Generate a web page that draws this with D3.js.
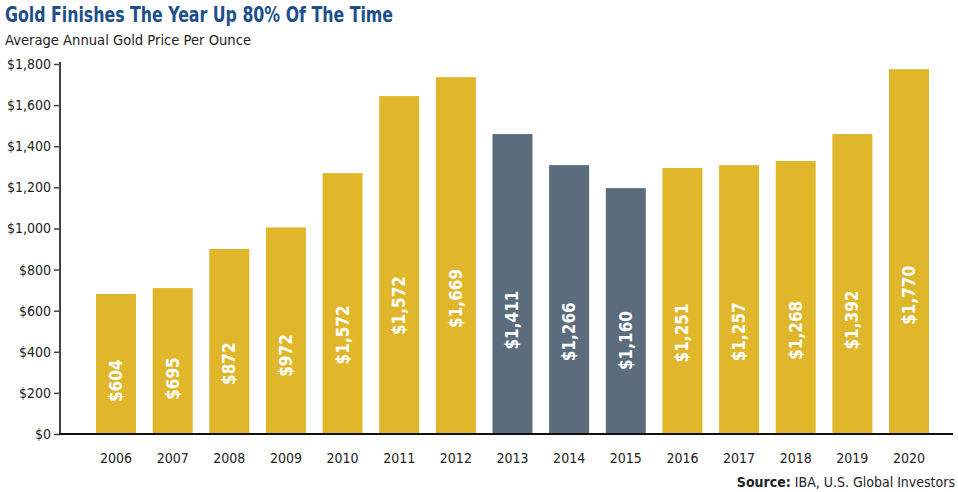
<!DOCTYPE html>
<html>
<head>
  <meta charset="utf-8">
  <script src="https://d3js.org/d3.v7.min.js"></script>
  <style>
    body { margin: 0; background: #fff; }
    text { font-family: "Liberation Sans Narrow", "DejaVu Sans Condensed", "Liberation Sans", sans-serif; }
  </style>
</head>
<body>
  <svg id="chart" width="958" height="492"></svg>
  <script>
    // data
    const years = ["2006", "2007", "2008", "2009", "2010", "2011", "2012", "2013", "2014", "2015", "2016", "2017", "2018", "2019", "2020"];
    const barValues = [681, 710, 900, 1005, 1269, 1644, 1736, 1459, 1308, 1196, 1294, 1308, 1328, 1459, 1775];
    const barLabels = ["$604", "$695", "$872", "$972", "$1,572", "$1,572", "$1,669", "$1,411", "$1,266", "$1,160", "$1,251", "$1,257", "$1,268", "$1,392", "$1,770"];
    const downYears = ["2013", "2014", "2015"];
    const yTicks = [0, 200, 400, 600, 800, 1000, 1200, 1400, 1600, 1800];

    const gold = "#E0B62B", slate = "#5B6C7D";
    const svg = d3.select("#chart");

    const x = d3.scaleBand().domain(years).range([87.7, 937.3]).paddingInner(0.294).paddingOuter(0.147);
    const y = d3.scaleLinear().domain([0, 1800]).range([434, 64]);

    // title
    svg.append("text").attr("x", 5).attr("y", 22)
      .attr("font-size", 22).attr("font-weight", "bold").attr("fill", "#1D4F8A")
      .attr("textLength", 388).attr("lengthAdjust", "spacingAndGlyphs")
      .text("Gold Finishes The Year Up 80% Of The Time");
    svg.append("text").attr("x", 5).attr("y", 45)
      .attr("font-size", 14).attr("fill", "#222")
      .attr("textLength", 246).attr("lengthAdjust", "spacingAndGlyphs")
      .text("Average Annual Gold Price Per Ounce");

    // y axis
    const yAxis = svg.append("g").attr("transform", "translate(60,0)")
      .call(d3.axisLeft(y).tickValues(yTicks).tickSize(6).tickPadding(3)
        .tickFormat(d => "$" + d3.format(",")(d)));
    yAxis.select(".domain").remove();
    yAxis.selectAll(".tick line").attr("stroke", "#444").attr("stroke-width", 1.5);
    yAxis.selectAll("text").attr("font-size", 14).attr("fill", "#222");
    svg.append("line").attr("x1", 60).attr("x2", 60).attr("y1", 62).attr("y2", 434)
      .attr("stroke", "#444").attr("stroke-width", 2);

    // bars
    svg.append("g").selectAll("rect").data(years).join("rect")
      .attr("x", d => x(d))
      .attr("width", x.bandwidth())
      .attr("y", (d, i) => y(barValues[i]))
      .attr("height", (d, i) => y(0) - y(barValues[i]))
      .attr("fill", d => downYears.includes(d) ? slate : gold);

    // value labels, rotated inside the bars
    svg.append("g").selectAll("text").data(years).join("text")
      .attr("transform", (d, i) => `translate(${x(d) + x.bandwidth() / 2},${y(barValues[i] * 0.38)}) rotate(-90)`)
      .attr("text-anchor", "middle").attr("dy", "0.35em")
      .attr("font-size", 17).attr("font-weight", "bold").attr("fill", "#fff")
      .text((d, i) => barLabels[i]);

    // x axis
    const xAxis = svg.append("g").attr("transform", "translate(0,434)")
      .call(d3.axisBottom(x).tickSize(0).tickPadding(19));
    xAxis.select(".domain").remove();
    xAxis.selectAll("text").attr("font-size", 14).attr("fill", "#222");
    svg.append("line").attr("x1", 59).attr("x2", 953).attr("y1", 434).attr("y2", 434)
      .attr("stroke", "#111").attr("stroke-width", 2);

    // source
    const src = svg.append("text").attr("x", 955).attr("y", 487).attr("text-anchor", "end")
      .attr("font-size", 14).attr("fill", "#222");
    src.append("tspan").attr("font-weight", "bold").text("Source:");
    src.append("tspan").text(" IBA, U.S. Global Investors");
  </script>
</body>
</html>
